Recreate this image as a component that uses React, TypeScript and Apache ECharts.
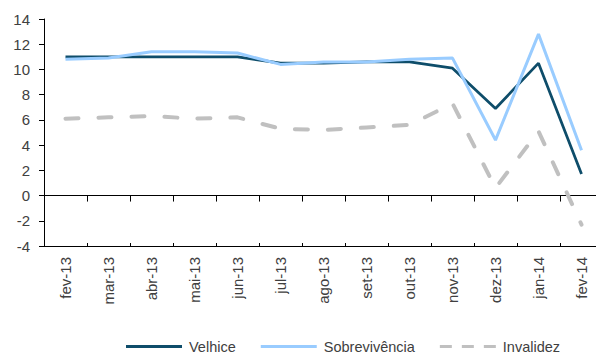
import React, { useEffect, useRef } from "react";
import * as echarts from "echarts";

const categories = ["fev-13", "mar-13", "abr-13", "mai-13", "jun-13", "jul-13", "ago-13", "set-13", "out-13", "nov-13", "dez-13", "jan-14", "fev-14"];
const velhice = [11.0, 11.0, 11.0, 11.0, 11.0, 10.5, 10.5, 10.6, 10.6, 10.1, 6.9, 10.5, 1.7];
const sobrevivencia = [10.8, 10.9, 11.4, 11.4, 11.3, 10.4, 10.6, 10.6, 10.8, 10.9, 4.4, 12.8, 3.6];
const invalidez = [6.1, 6.2, 6.3, 6.1, 6.2, 5.3, 5.2, 5.4, 5.6, 7.3, 0.6, 5.1, -2.3];
const seriesNames = ["Velhice", "Sobrevivência", "Invalidez"];

const FONT = "'Liberation Sans', Arial, sans-serif";
const TEXT = "#404040";
const C_VEL = "#0E4D6A";
const C_SOB = "#99CCFF";
const C_INV = "#C0C0C0";

export default function App() {
  const ref = useRef<HTMLDivElement>(null);
  useEffect(() => {
    if (!ref.current) return;
    const chart = echarts.init(ref.current, null, { renderer: "svg" });
    chart.setOption({
      animation: false,
      textStyle: { fontFamily: FONT },
      grid: { left: 44, top: 19, width: 559, bottom: 108, containLabel: false, outerBoundsMode: "none" },
      legend: {
        left: 126,
        top: 339,
        padding: 0,
        itemWidth: 56,
        itemHeight: 3,
        itemGap: 25,
        textStyle: { fontSize: 14.5, color: TEXT, fontFamily: FONT, padding: [0, 0, 0, 2] },
        data: [
          { name: seriesNames[0], icon: "rect", itemStyle: { color: C_VEL } },
          { name: seriesNames[1], icon: "rect", itemStyle: { color: C_SOB } },
          {
            name: seriesNames[2],
            icon: "path://M0,0h12v3h-12z M22,0h12v3h-12z M44,0h12v3h-12z",
            itemStyle: { color: C_INV },
          },
        ],
      },
      xAxis: [
        {
          type: "category",
          position: "bottom",
          data: categories,
          boundaryGap: true,
          axisLine: { show: true, onZero: true, lineStyle: { color: "#000", width: 1 } },
          axisTick: { show: true, inside: false, length: 6, interval: 0, lineStyle: { color: "#000" } },
          axisLabel: { show: false },
          splitLine: { show: false },
        },
        {
          type: "category",
          position: "bottom",
          data: categories,
          boundaryGap: true,
          axisLine: { show: true, onZero: true, lineStyle: { color: "#000", width: 1 } },
          axisTick: { show: true, inside: true, length: 3, interval: 0, lineStyle: { color: "#000" } },
          axisLabel: { show: false },
          splitLine: { show: false },
        },
        {
          type: "category",
          position: "bottom",
          data: categories,
          boundaryGap: true,
          axisLine: { show: false, onZero: false },
          axisTick: { show: false },
          axisLabel: { show: true, rotate: 90, interval: 0, margin: 11, fontSize: 15, color: TEXT, fontFamily: FONT },
          splitLine: { show: false },
        },
      ],
      yAxis: {
        type: "value",
        min: -4,
        max: 14,
        interval: 2,
        axisLine: { show: true, lineStyle: { color: "#000", width: 1 } },
        axisTick: { show: true, inside: false, length: 5, lineStyle: { color: "#000" } },
        axisLabel: { fontSize: 15, color: TEXT, margin: 14, fontFamily: FONT },
        splitLine: { show: false },
      },
      series: [
        {
          name: seriesNames[0],
          type: "line",
          xAxisIndex: 0,
          data: velhice,
          symbol: "none",
          lineStyle: { color: C_VEL, width: 2.75 },
          itemStyle: { color: C_VEL },
        },
        {
          name: seriesNames[1],
          type: "line",
          xAxisIndex: 0,
          data: sobrevivencia,
          symbol: "none",
          lineStyle: { color: C_SOB, width: 3 },
          itemStyle: { color: C_SOB },
        },
        {
          name: seriesNames[2],
          type: "line",
          xAxisIndex: 0,
          data: invalidez,
          symbol: "none",
          lineStyle: { color: C_INV, width: 4, type: [13, 20], cap: "round" },
          itemStyle: { color: C_INV },
        },
      ],
    });
    return () => chart.dispose();
  }, []);
  return (
    <div
      ref={ref}
      style={{ position: "fixed", left: 0, top: 0, width: 596, height: 354, background: "#fff" }}
    />
  );
}
